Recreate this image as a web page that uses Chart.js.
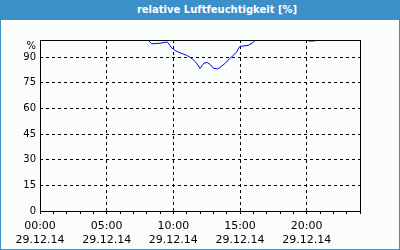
<!DOCTYPE html>
<html lang="de">
<head>
    <meta charset="UTF-8">
    <title>relative Luftfeuchtigkeit</title>
    <script src="https://cdn.jsdelivr.net/npm/chart.js"></script>
    <style>
        body { margin: 0; overflow: hidden; }
        #card {
            position: relative;
            width: 400px; height: 250px;
            box-sizing: border-box;
            border: 1px solid #3c8fc7; border-top: none;
            background: #fafdfa;
        }
        #title {
            position: absolute; left: -1px; top: 0;
            width: 400px; height: 20px;
            box-sizing: border-box; padding-left: 34px;
            background: #3c8fc7; color: #fff;
            font: bold 10px 'DejaVu Sans', sans-serif;
            line-height: 20px; text-align: center;
        }
        #chart { position: absolute; left: -1px; top: 0; }
    </style>
</head>
<body>
    <div id="card">
        <div id="title">relative Luftfeuchtigkeit [%]</div>
        <canvas id="chart" width="400" height="250"></canvas>
    </div>
    <script>
        // Messwerte (Stunde des Tages, rel. Feuchte in %)
        const hours    = [0, 8.0, 8.12, 8.38, 9.0, 9.5, 9.6, 9.88, 10.0, 10.13, 10.5, 11.0, 11.25, 11.5, 11.75, 12.0, 12.15, 12.3, 12.55, 12.75, 13.0, 13.3, 13.5, 13.9, 14.25, 14.5, 14.75, 14.9, 15.0, 15.6, 15.9, 16.1, 16.3, 20.1, 20.15, 20.6, 20.65, 24];
        const humidity = [100, 100, 99.8, 97.8, 98.1, 98.8, 98.4, 95.3, 94.8, 93.9, 92.5, 91.0, 90.0, 88.4, 86.5, 83.4, 84.9, 86.5, 86.8, 85.8, 83.5, 83.1, 83.9, 86.5, 89.3, 91.0, 93.1, 95.1, 96.3, 96.8, 98.1, 99.5, 100, 100, 99.4, 99.4, 100, 100];

        const xTickHours = [0, 1, 2, 3, 4, 5, 6, 7, 8, 9, 10, 11, 12, 13, 14, 15, 16, 17, 18, 19, 20, 21, 22, 23, 24];
        const timeLabels = { 0: '00:00', 5: '05:00', 10: '10:00', 15: '15:00', 20: '20:00' };
        const dateLabel = '29.12.14';
        const yTicks = [0, 15, 30, 45, 60, 75, 90];
        const unitLabel = '%';

        const xFont = { family: "'DejaVu Sans', sans-serif", size: 11, lineHeight: 1.3 };
        const yFont = { family: "'DejaVu Sans', sans-serif", size: 10 };

        const points = hours.map((h, i) => ({ x: h, y: humidity[i] }));

        // schwarzer Rahmen ueber den Daten + Einheit oben links
        const framePlugin = {
            id: 'frame',
            afterDatasetsDraw(chart) {
                const { ctx, chartArea: a } = chart;
                ctx.save();
                ctx.strokeStyle = '#000';
                ctx.lineWidth = 1;
                ctx.strokeRect(a.left + 0.5, a.top + 0.5, a.right - a.left, a.bottom - a.top);
                ctx.fillStyle = '#000';
                ctx.font = `${yFont.size}px ${yFont.family}`;
                ctx.textAlign = 'right';
                ctx.textBaseline = 'middle';
                ctx.fillText(unitLabel, a.left - 4, a.top + 6);
                ctx.restore();
            }
        };

        new Chart(document.getElementById('chart'), {
            type: 'line',
            data: {
                datasets: [{
                    data: points,
                    borderColor: '#0000ff',
                    borderWidth: 1,
                    pointRadius: 0,
                    tension: 0,
                    fill: false,
                    clip: 0,
                }]
            },
            options: {
                responsive: false,
                animation: false,
                layout: { padding: { top: 40, right: 40, left: 0, bottom: 0 } },
                plugins: { legend: { display: false }, tooltip: { enabled: false } },
                scales: {
                    x: {
                        type: 'linear',
                        min: 0,
                        max: 24,
                        afterBuildTicks: s => { s.ticks = xTickHours.map(v => ({ value: v })); },
                        afterFit: s => { s.height = 39; },
                        ticks: {
                            autoSkip: false,
                            maxRotation: 0,
                            padding: 5,
                            color: '#000',
                            font: xFont,
                            callback: v => timeLabels[v] ? [timeLabels[v], dateLabel] : '',
                        },
                        grid: {
                            color: c => (c.tick && c.tick.value % 5 === 0 && c.tick.value > 0 && c.tick.value < 24) ? '#000' : 'transparent',
                            tickColor: '#000',
                            tickLength: 3,
                        },
                        border: { display: false, dash: [3, 3] },
                    },
                    y: {
                        min: 0,
                        max: 100,
                        afterBuildTicks: s => { s.ticks = yTicks.map(v => ({ value: v })); },
                        afterFit: s => { s.width = 40; },
                        ticks: { padding: 4, color: '#000', font: yFont },
                        grid: {
                            color: c => (c.tick && c.tick.value > 0) ? '#000' : 'transparent',
                            drawTicks: false,
                        },
                        border: { display: false, dash: [3, 3] },
                    }
                }
            },
            plugins: [framePlugin]
        });
    </script>
</body>
</html>
